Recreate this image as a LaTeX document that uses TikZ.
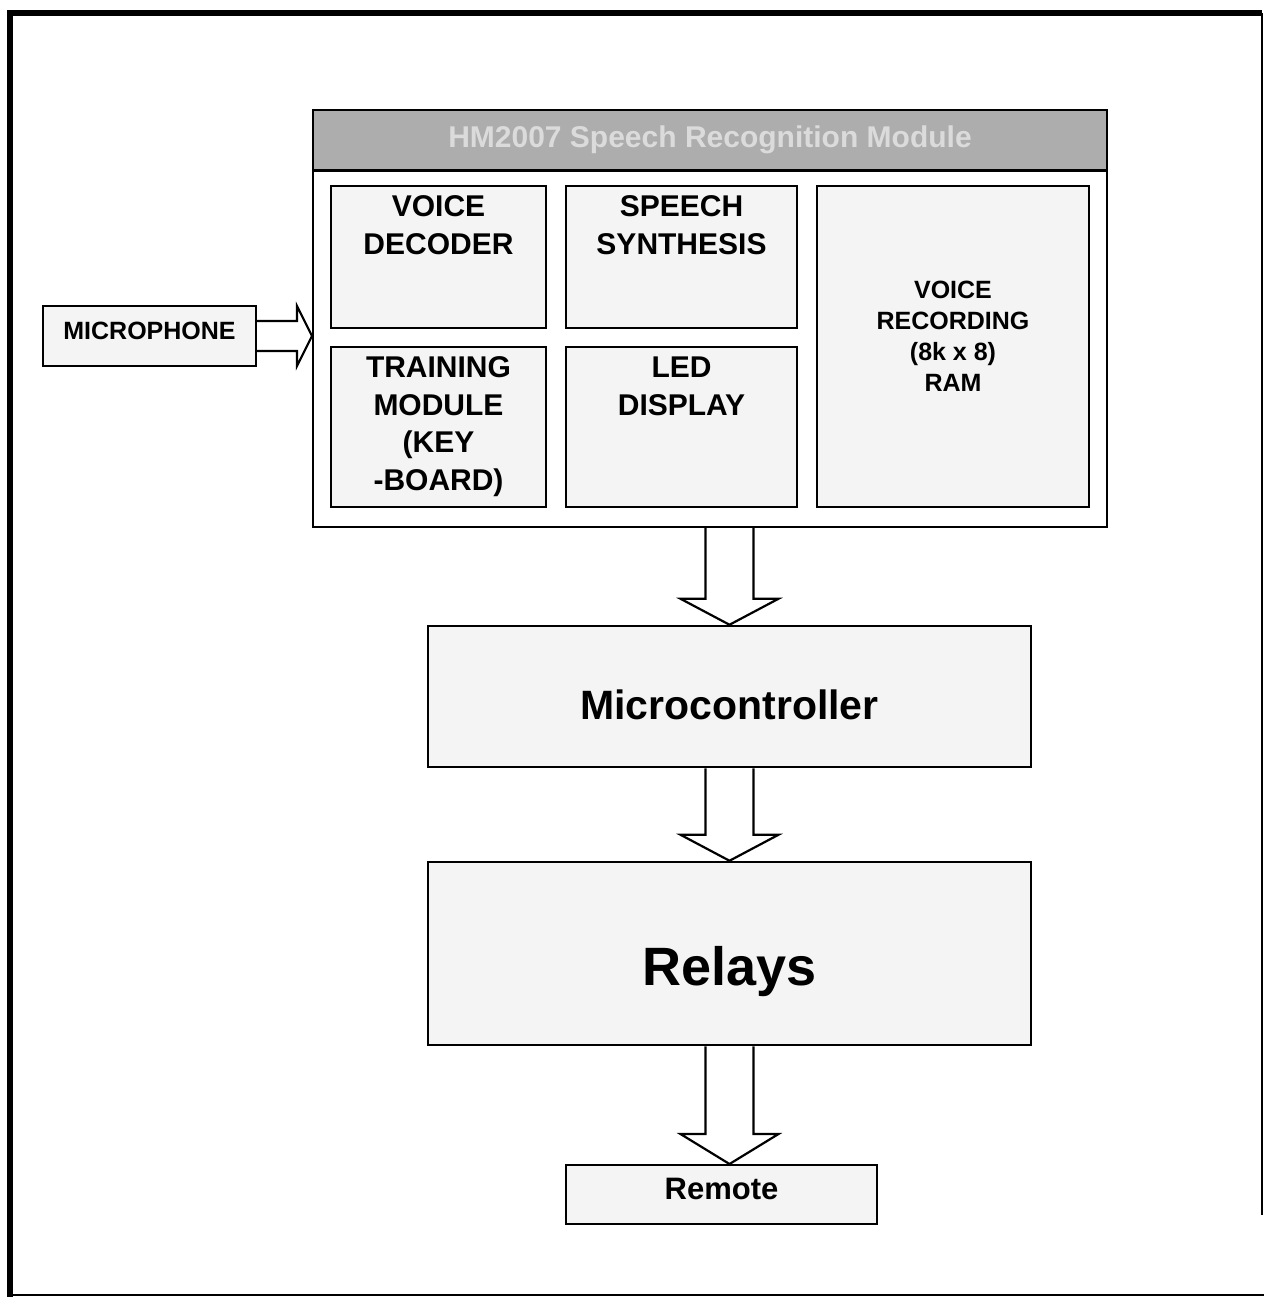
\documentclass[tikz,border=0pt]{standalone}
\usepackage{fontspec}
\setmainfont{Liberation Sans}
\usetikzlibrary{calc}

\tikzset{
  frameline/.style={line width=#1, draw=black},
  panel/.style={draw=black, line width=2.5pt, fill=gray!9, inner sep=0pt},
  outerbox/.style={draw=black, line width=2pt, fill=white, inner sep=0pt},
  titlebar/.style={draw=black, line width=1.5pt, fill=gray!64, inner sep=0pt,
    text=gray!28, font=\bfseries\fontsize{30}{34}\selectfont},
  lbl/.style={inner sep=0pt, align=center, font=\bfseries\fontsize{30}{37.5}\selectfont},
  smalllbl/.style={inner sep=0pt, align=center, font=\bfseries\fontsize{25}{31}\selectfont},
  blockarrow/.style={draw=black, line width=2.2pt, fill=white, line join=miter},
}

\begin{document}
\begin{tikzpicture}[x=1pt, y=-1pt]
  % page extent
  \useasboundingbox (0,0) rectangle (1264,1299);

  % page frame: heavy on the left and top, light on the right and bottom
  \draw[frameline=6pt] (10,1297) -- (10,13) -- (1262,13);
  \draw[frameline=1.5pt] (1262,13) -- (1262,1215);
  \draw[frameline=2pt] (10,1295) -- (1264,1295);

  % speech recognition module
  \node[outerbox, minimum width=794, minimum height=417] (module) at (710,318.5) {};
  \node[titlebar, minimum width=794, minimum height=60] (title) at (710,140)
    {HM2007 Speech Recognition Module};
  \draw[line width=3pt] (title.south west) -- (title.south east);

  \node[panel, minimum width=215, minimum height=142] (vd) at (438.5,257) {};
  \node[panel, minimum width=231, minimum height=142] (ss) at (681.5,257) {};
  \node[panel, minimum width=215, minimum height=160] (tm) at (438.5,427) {};
  \node[panel, minimum width=231, minimum height=160] (led) at (681.5,427) {};
  \node[panel, minimum width=272, minimum height=321] (vr) at (953,346.5) {};

  \node[lbl, anchor=north] (vdt) at ($(vd.north)+(0,11)$) {VOICE\\DECODER};
  \node[lbl, anchor=north] (sst) at ($(ss.north)+(0,11)$) {SPEECH\\SYNTHESIS};
  \node[lbl, anchor=north] (tmt) at ($(tm.north)+(0,11)$) {TRAINING\\MODULE\\(KEY\\-BOARD)};
  \node[lbl, anchor=north] (ledt) at ($(led.north)+(0,11)$) {LED\\DISPLAY};
  \node[smalllbl, anchor=north] (vrt) at ($(vr.north)+(0,96)$) {VOICE\\RECORDING\\(8k x 8)\\RAM};

  % microphone input
  \node[panel, line width=2pt, minimum width=213, minimum height=60] (mic) at (149.5,336) {};
  \node[inner sep=0pt, font=\bfseries\fontsize{25}{28}\selectfont] (mict)
    at ($(mic.center)+(0,-5)$) {MICROPHONE};

  % processing chain
  \node[panel, minimum width=603, minimum height=141] (mc) at (729.5,696.5) {};
  \node[inner sep=0pt, font=\bfseries\fontsize{41}{46}\selectfont] (mct)
    at ($(mc.center)+(0,8)$) {Microcontroller};
  \node[panel, minimum width=603, minimum height=183] (rel) at (729.5,953.5) {};
  \node[inner sep=0pt, font=\bfseries\fontsize{54}{60}\selectfont] (relt)
    at ($(rel.center)+(0,18)$) {Relays};
  \node[panel, line width=2pt, minimum width=311, minimum height=59] (rem) at (721.5,1194.5) {};
  \node[inner sep=0pt, font=\bfseries\fontsize{31}{35}\selectfont] (remt)
    at ($(rem.center)+(0,-6)$) {Remote};

  % hollow block arrow: microphone -> module
  \coordinate (mtip) at (mic.east -| module.west);
  \draw[blockarrow] ($(mic.east)+(0,-15)$) -- ($(mtip)+(-15,-15)$) -- ($(mtip)+(-15,-30)$)
    -- (mtip) -- ($(mtip)+(-15,30)$) -- ($(mtip)+(-15,15)$) -- ($(mic.east)+(0,15)$);

  % hollow block arrows down the chain
  \coordinate (a1s) at (mc.north |- module.south);
  \coordinate (a1t) at (mc.north);
  \draw[blockarrow] ($(a1s)+(-24,0)$) -- ($(a1t)+(-24,-26)$) -- ($(a1t)+(-49,-26)$)
    -- (a1t) -- ($(a1t)+(49,-26)$) -- ($(a1t)+(24,-26)$) -- ($(a1s)+(24,0)$);

  \coordinate (a2s) at (mc.south);
  \coordinate (a2t) at (rel.north);
  \draw[blockarrow] ($(a2s)+(-24,0)$) -- ($(a2t)+(-24,-26)$) -- ($(a2t)+(-49,-26)$)
    -- (a2t) -- ($(a2t)+(49,-26)$) -- ($(a2t)+(24,-26)$) -- ($(a2s)+(24,0)$);

  \coordinate (a3s) at (rel.south);
  \coordinate (a3t) at (rel.south |- rem.north);
  \draw[blockarrow] ($(a3s)+(-24,0)$) -- ($(a3t)+(-24,-30)$) -- ($(a3t)+(-49,-30)$)
    -- (a3t) -- ($(a3t)+(49,-30)$) -- ($(a3t)+(24,-30)$) -- ($(a3s)+(24,0)$);
\end{tikzpicture}
\end{document}
